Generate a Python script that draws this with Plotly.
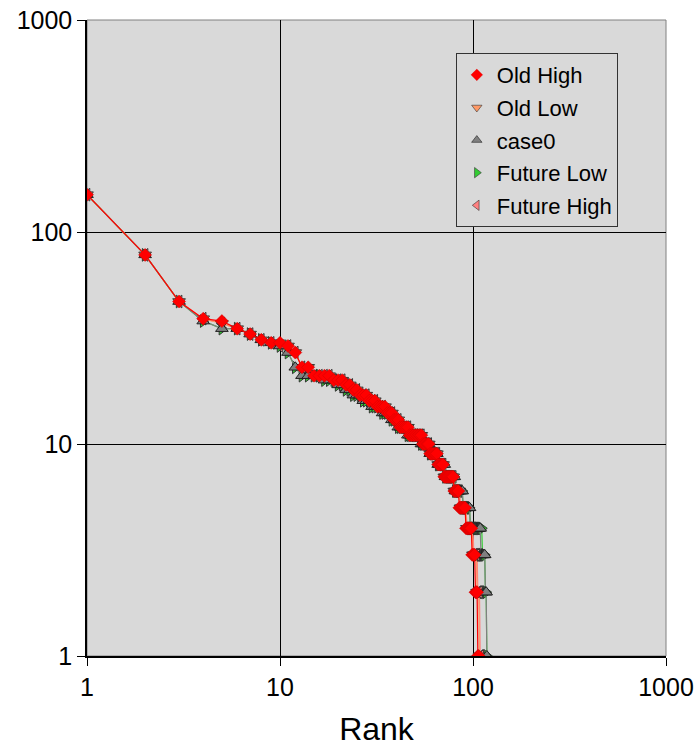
import plotly.graph_objects as go

# ---- data ----
old_high = [150, 78, 47, 39, 38, 35, 33, 31, 30, 30,
            29, 27, 23, 23, 21, 21, 21, 21, 20, 20,
            20, 19, 19, 18, 18, 17, 17, 17, 16, 16,
            16, 15, 15, 15, 15, 14, 14, 14, 13, 13,
            13, 12, 12, 12, 12, 12, 11, 11, 11, 11,
            11, 11, 11, 11, 10, 10, 10, 10, 10, 9,
            9, 9, 9, 9, 9, 8, 8, 8, 8, 8,
            7, 7, 7, 7, 7, 7, 7, 7, 7, 6,
            6, 6, 6, 6, 5, 5, 5, 5, 5, 5,
            5, 4, 4, 4, 4, 4, 4, 4, 3, 3,
            3, 3, 2, 2, 2, 1, 1]

old_low = [150, 78, 47, 39, 37, 35, 33, 31, 30, 30,
           29, 27, 23, 23, 21, 21, 21, 21, 20, 20,
           20, 19, 19, 18, 18, 17, 17, 17, 16, 16,
           16, 15, 15, 15, 15, 14, 14, 14, 13, 13,
           13, 12, 12, 12, 12, 12, 11, 11, 11, 11,
           11, 11, 11, 11, 10, 10, 10, 10, 10, 9,
           9, 9, 9, 9, 9, 8, 8, 8, 8, 8,
           7, 7, 7, 7, 7, 7, 7, 7, 7, 6,
           6, 6, 6, 6, 6, 5, 5, 5, 5, 5,
           5, 5, 4, 4, 4, 4, 4, 4, 4, 3,
           3, 3, 3, 3, 2, 2, 2, 1, 1]

case0 = [150, 78, 47, 38, 35, 35, 33, 31, 30, 29,
         27, 23, 21, 21, 21, 21, 20, 20, 20, 19,
         19, 18, 18, 17, 17, 17, 16, 16, 16, 15,
         15, 15, 15, 14, 14, 14, 14, 13, 13, 13,
         12, 12, 12, 12, 12, 11, 11, 11, 11, 11,
         11, 11, 11, 10, 10, 10, 10, 10, 10, 9,
         9, 9, 9, 9, 9, 8, 8, 8, 8, 8,
         8, 7, 7, 7, 7, 7, 7, 7, 7, 7,
         6, 6, 6, 6, 6, 6, 6, 6, 5, 5,
         5, 5, 5, 5, 5, 5, 4, 4, 4, 4,
         4, 4, 4, 4, 4, 4, 4, 4, 4, 3,
         3, 3, 3, 3, 3, 2, 2, 1]

future_low = [150, 78, 47, 38, 35, 35, 33, 31, 30, 29,
              27, 23, 21, 21, 21, 21, 20, 20, 20, 19,
              19, 18, 18, 17, 17, 17, 16, 16, 16, 15,
              15, 15, 15, 14, 14, 14, 14, 13, 13, 13,
              12, 12, 12, 12, 12, 11, 11, 11, 11, 11,
              11, 11, 11, 10, 10, 10, 10, 10, 10, 9,
              9, 9, 9, 9, 9, 8, 8, 8, 8, 8,
              8, 7, 7, 7, 7, 7, 7, 7, 7, 7,
              6, 6, 6, 6, 6, 6, 6, 6, 5, 5,
              5, 5, 5, 5, 5, 5, 4, 4, 4, 4,
              4, 4, 4, 4, 4, 4, 4, 4, 4, 4,
              4, 3, 3, 3, 3, 2, 2, 1]

future_high = [150, 78, 47, 39, 37, 35, 33, 31, 30, 29,
               29, 27, 23, 22, 21, 21, 21, 21, 20, 20,
               20, 19, 19, 18, 18, 17, 17, 17, 16, 16,
               16, 15, 15, 15, 14, 14, 14, 14, 13, 13,
               13, 12, 12, 12, 12, 12, 11, 11, 11, 11,
               11, 11, 11, 11, 10, 10, 10, 10, 10, 9,
               9, 9, 9, 9, 9, 8, 8, 8, 8, 8,
               7, 7, 7, 7, 7, 7, 7, 7, 7, 6,
               6, 6, 6, 6, 6, 5, 5, 5, 5, 5,
               5, 5, 4, 4, 4, 4, 4, 4, 4, 4,
               3, 3, 3, 3, 3, 2, 2, 2, 1, 1]

series_names = ["Old High", "Old Low", "case0", "Future Low", "Future High"]
x_tick_labels = ["1", "10", "100", "1000"]
y_tick_labels = ["1", "10", "100", "1000"]
tick_values = [1, 10, 100, 1000]

series = {
    "Old High": old_high,
    "Old Low": old_low,
    "case0": case0,
    "Future Low": future_low,
    "Future High": future_high,
}
styles = {
    "Old High": dict(symbol="diamond", color="#FF0000", line="#CC0000", size=10, lw=0.5),
    "Old Low": dict(symbol="triangle-down", color="#FF9966", line="#333333", size=11, lw=1),
    "case0": dict(symbol="triangle-up", color="#808080", line="#202020", size=11, lw=1),
    "Future Low": dict(symbol="triangle-right", color="#33CC33", line="#333333", size=11, lw=1),
    "Future High": dict(symbol="triangle-left", color="#FF8080", line="#333333", size=11, lw=1),
}

fig = go.Figure()
draw_order = ["Future High", "Future Low", "Old Low", "case0", "Old High"]
for name in draw_order:
    vals = series[name]
    st = styles[name]
    ranks = list(range(1, len(vals) + 1))
    fig.add_trace(go.Scatter(
        x=ranks, y=vals, name=name, mode="lines+markers", showlegend=False,
        line=dict(color=st["color"], width=1.2),
        marker=dict(symbol=st["symbol"], size=st["size"], color=st["color"],
                    line=dict(color=st["line"], width=st["lw"])),
    ))

# legend entries (marker only, as in the reference)
for name in series_names:
    st = styles[name]
    fig.add_trace(go.Scatter(
        x=[None], y=[None], name=name, mode="markers",
        legendgroup=name,
        marker=dict(symbol=st["symbol"], size=9, color=st["color"],
                    line=dict(color=st["line"], width=st["lw"] * 0.6)),
    ))

font_family = "Liberation Sans, Arial, sans-serif"

fig.update_layout(
    width=698, height=747,
    margin=dict(l=87, r=32, t=20, b=91),
    paper_bgcolor="white",
    plot_bgcolor="#D9D9D9",
    font=dict(family=font_family, color="black"),
    showlegend=True,
    legend=dict(
        x=0.637, y=0.948, xanchor="left", yanchor="top",
        bgcolor="#D9D9D9", bordercolor="#333333", borderwidth=1,
        font=dict(size=22, family=font_family, color="black"),
        tracegroupgap=1, itemwidth=30,
    ),
    xaxis=dict(
        type="log", range=[0, 3], automargin=False, ticklabeloverflow="allow",
        tickvals=tick_values, ticktext=x_tick_labels,
        tickfont=dict(size=25), ticks="outside", ticklen=8, tickcolor="black",
        showgrid=True, gridcolor="black", gridwidth=1,
        showline=True, linecolor="black", linewidth=1.5,
        zeroline=False,
        title=dict(text="Rank", font=dict(size=32), standoff=33),
    ),
    yaxis=dict(
        type="log", range=[0, 3], automargin=False, ticklabeloverflow="allow",
        tickvals=tick_values, ticktext=y_tick_labels,
        tickfont=dict(size=25), ticks="outside", ticklen=8, tickcolor="black",
        showgrid=True, gridcolor="black", gridwidth=1,
        showline=True, linecolor="black", linewidth=1.5,
        zeroline=False,
    ),
    shapes=[dict(type="rect", xref="paper", yref="paper", x0=0, y0=0, x1=1, y1=1,
                 line=dict(color="#808080", width=1), layer="below")],
)

# remove the default 8px page margin so the 698x747 figure fills the window
fig.write_html("out.html",
               config={"displayModeBar": False},
               post_script="document.body.style.margin='0';document.body.style.overflow='hidden';")
